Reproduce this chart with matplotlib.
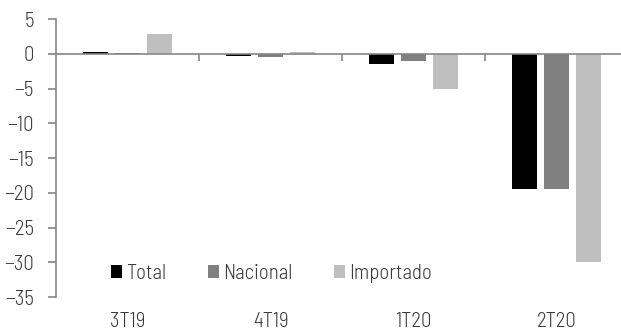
import matplotlib
matplotlib.use("Agg")
import matplotlib.pyplot as plt
import numpy as np

# light narrow face for the labels; DejaVu stays as the fallback
plt.rcParams["font.family"] = ["Barlow Semi Condensed", "DejaVu Sans"]
plt.rcParams["font.weight"] = 300

quarters = ["3T19", "4T19", "1T20", "2T20"]
total = [0.2, -0.3, -1.4, -19.4]
nacional = [0.05, -0.5, -1.1, -19.5]
importado = [2.9, 0.3, -5.1, -29.9]

series = [
    ("Total", total, "#000000"),
    ("Nacional", nacional, "#808080"),
    ("Importado", importado, "#bfbfbf"),
]

text_color = "#3a3a3a"
axis_color = "#868686"
fs = 15

fig = plt.figure(figsize=(6.21, 3.35), dpi=100)
ax = fig.add_axes([0.0902, 0.1134, 0.9098, 0.8298])

x = np.arange(len(quarters))
width = 0.175
step = 0.224
for i, (name, vals, color) in enumerate(series):
    ax.bar(x + (i - 1) * step, vals, width, color=color, label=name, zorder=2)

ax.set_xlim(-0.5, 3.45)
ax.set_ylim(-35, 5)
ax.set_yticks(np.arange(-35, 6, 5))
ax.tick_params(axis="y", direction="out", length=6, width=1.2, color=axis_color,
               labelsize=fs, pad=10, labelcolor=text_color)

for s in ("top", "right"):
    ax.spines[s].set_visible(False)
ax.spines["left"].set_color(axis_color)
ax.spines["left"].set_linewidth(1.2)
ax.spines["bottom"].set_position(("data", 0))
ax.spines["bottom"].set_color(axis_color)
ax.spines["bottom"].set_linewidth(1.2)
ax.spines["bottom"].set_zorder(3)

# category boundaries as ticks on the zero line
ax.set_xticks(x[:-1] + 0.5)
ax.set_xticklabels([])
ax.tick_params(axis="x", direction="out", length=5, width=1.2, color=axis_color)

# category names below the plot area
sec = ax.secondary_xaxis(0)
sec.set_xticks(x)
sec.set_xticklabels(quarters)
sec.spines["bottom"].set_visible(False)
sec.tick_params(axis="x", length=0, pad=11, labelsize=fs, labelcolor=text_color)

ax.legend(loc="center left", bbox_to_anchor=(0.097, 0.085), ncol=3, frameon=False,
          fontsize=fs, handlelength=0.53, handleheight=0.53, handletextpad=0.2,
          columnspacing=2.0, labelcolor=text_color, borderaxespad=0, borderpad=0)

fig.savefig("out.png", dpi=100)
